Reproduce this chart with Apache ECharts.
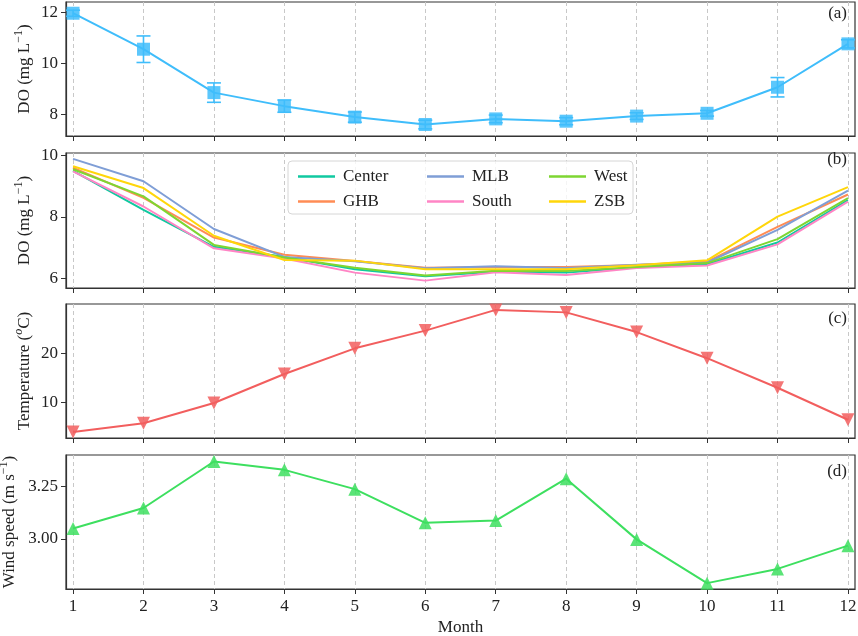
<!DOCTYPE html>
<html>
<head>
<meta charset="utf-8">
<script src="https://cdn.jsdelivr.net/npm/echarts@6/dist/echarts.min.js"></script>
<style>
html, body { margin: 0; padding: 0; background: #fff; }
#main { width: 858px; height: 636px; }
</style>
</head>
<body>
<div id="main"></div>
<script>
// data
const months = [1, 2, 3, 4, 5, 6, 7, 8, 9, 10, 11, 12];

// (a) mean DO with error bars
const doMean = [11.96, 10.55, 8.85, 8.32, 7.89, 7.6, 7.82, 7.73, 7.93, 8.04, 9.06, 10.76];
const doErr = [0.12, 0.52, 0.38, 0.24, 0.2, 0.17, 0.15, 0.14, 0.13, 0.11, 0.38, 0.16];

// (b) DO by site
const siteNames = ['Center', 'GHB', 'MLB', 'South', 'West', 'ZSB'];
const siteColors = ['#10c9a0', '#ff8c55', '#7f9ed6', '#ff85c5', '#7ed632', '#ffd60a'];
const doCenter = [9.5, 8.23, 7.03, 6.7, 6.3, 6.07, 6.22, 6.19, 6.36, 6.46, 7.17, 8.55];
const doGHB = [9.6, 8.62, 7.33, 6.77, 6.57, 6.35, 6.37, 6.37, 6.44, 6.55, 7.68, 8.73];
const doMLB = [9.89, 9.16, 7.61, 6.7, 6.56, 6.33, 6.4, 6.34, 6.45, 6.52, 7.58, 8.86];
const doSouth = [9.48, 8.34, 6.98, 6.65, 6.19, 5.93, 6.2, 6.11, 6.34, 6.42, 7.11, 8.5];
const doWest = [9.55, 8.67, 7.09, 6.68, 6.35, 6.1, 6.25, 6.24, 6.37, 6.5, 7.28, 8.61];
const doZSB = [9.65, 8.94, 7.39, 6.6, 6.58, 6.3, 6.3, 6.3, 6.43, 6.59, 8.01, 8.97];
const siteValues = [doCenter, doGHB, doMLB, doSouth, doWest, doZSB];

// (c) temperature
const temperature = [4.0, 5.8, 9.9, 15.8, 21.0, 24.6, 28.8, 28.3, 24.3, 19.0, 13.0, 6.5];

// (d) wind speed
const windSpeed = [3.049, 3.147, 3.369, 3.329, 3.237, 3.076, 3.087, 3.287, 2.997, 2.788, 2.856, 2.967];

const serif = 'Liberation Serif';
const ink = '#222';
const colA = '#3fbdfb';
const colC = '#f25e5e';
const colD = '#3ddf5f';

const grids = [
    { top: 2, height: 134 },
    { top: 153, height: 135 },
    { top: 304, height: 134 },
    { top: 455, height: 134 }
].map(g => Object.assign({
    left: 66, right: 3, show: true, borderColor: '#333', borderWidth: 1.2,
    backgroundColor: 'transparent', containLabel: false, outerBoundsMode: 'none'
}, g));

function xAxisFor(i) {
    const last = i === 3;
    return {
        type: 'value', gridIndex: i, min: 0.9, max: 12.1,
        axisLine: { show: true, lineStyle: { color: '#333', width: 1.2 } },
        axisTick: { show: true, customValues: months, length: 5, lineStyle: { color: '#333' } },
        axisLabel: {
            show: last, customValues: months, margin: 9,
            fontFamily: serif, fontSize: 17, color: ink
        },
        splitLine: { show: true, lineStyle: { color: '#c8c8c8', type: [4, 3], width: 1 } },
        name: last ? 'Month' : '', nameLocation: 'middle', nameGap: 30,
        nameTextStyle: { fontFamily: serif, fontSize: 17, color: ink }
    };
}

const nameRich = {
    n: { fontFamily: serif, fontSize: 17, color: ink, lineHeight: 24 },
    s: { fontFamily: serif, fontSize: 12, color: ink, lineHeight: 12, verticalAlign: 'top' },
    si: { fontFamily: serif, fontSize: 12, color: ink, lineHeight: 12, verticalAlign: 'top', fontStyle: 'italic' }
};

function yAxisFor(i, min, max, ticks, name, gap, fmt) {
    return {
        type: 'value', gridIndex: i, min: min, max: max,
        axisLine: { show: true, lineStyle: { color: '#333', width: 1.2 } },
        axisTick: { show: true, customValues: ticks, length: 5, lineStyle: { color: '#333' } },
        axisLabel: {
            customValues: ticks, margin: 8, fontFamily: serif, fontSize: 17, color: ink,
            formatter: fmt || (v => String(v))
        },
        splitLine: { show: false },
        name: name, nameLocation: 'middle', nameGap: gap, nameRotate: 90,
        nameMoveOverlap: false,
        nameTextStyle: { rich: nameRich }
    };
}

const pairs = vals => months.map((m, i) => [m, vals[i]]);

const series = [];

// (a)
series.push({
    type: 'custom', xAxisIndex: 0, yAxisIndex: 0, z: 3,
    data: months.map((m, i) => [m, doMean[i] - doErr[i], doMean[i] + doErr[i]]),
    encode: { x: 0, y: [1, 2] },
    renderItem: function (params, api) {
        const x = api.value(0);
        const lo = api.coord([x, api.value(1)]);
        const hi = api.coord([x, api.value(2)]);
        const w = 7;
        const st = { stroke: colA, lineWidth: 1.6 };
        return {
            type: 'group', children: [
                { type: 'line', shape: { x1: lo[0], y1: lo[1], x2: hi[0], y2: hi[1] }, style: st },
                { type: 'line', shape: { x1: lo[0] - w, y1: lo[1], x2: lo[0] + w, y2: lo[1] }, style: st },
                { type: 'line', shape: { x1: hi[0] - w, y1: hi[1], x2: hi[0] + w, y2: hi[1] }, style: st }
            ]
        };
    }
});
series.push({
    type: 'line', xAxisIndex: 0, yAxisIndex: 0, data: pairs(doMean), z: 4,
    symbol: 'rect', symbolSize: 13, showAllSymbol: true,
    lineStyle: { color: colA, width: 2 },
    itemStyle: { color: colA, opacity: 0.85 },
    emphasis: { disabled: true }
});

// (b)
siteNames.forEach((name, k) => {
    series.push({
        name: name, type: 'line', xAxisIndex: 1, yAxisIndex: 1,
        data: pairs(siteValues[k]), symbol: 'none',
        lineStyle: { color: siteColors[k], width: 2 },
        itemStyle: { color: siteColors[k] },
        emphasis: { disabled: true }
    });
});

// (c)
series.push({
    type: 'line', xAxisIndex: 2, yAxisIndex: 2, data: pairs(temperature),
    symbol: 'triangle', symbolRotate: 180, symbolSize: 13, showAllSymbol: true,
    lineStyle: { color: colC, width: 2 },
    itemStyle: { color: colC, opacity: 0.85 },
    emphasis: { disabled: true }
});

// (d)
series.push({
    type: 'line', xAxisIndex: 3, yAxisIndex: 3, data: pairs(windSpeed),
    symbol: 'triangle', symbolSize: 13, showAllSymbol: true,
    lineStyle: { color: colD, width: 2 },
    itemStyle: { color: colD, opacity: 0.85 },
    emphasis: { disabled: true }
});

function legendCol(names, left) {
    return {
        data: names, orient: 'vertical', left: left, top: 163,
        icon: 'rect', itemWidth: 37, itemHeight: 2.5, itemGap: 8,
        selectedMode: false,
        textStyle: { fontFamily: serif, fontSize: 17, color: ink, lineHeight: 17, padding: [0, 0, 0, 3] }
    };
}

const panelTags = [['(a)', 14], ['(b)', 160], ['(c)', 319], ['(d)', 472]];

const option = {
    animation: false,
    backgroundColor: '#fff',
    textStyle: { fontFamily: serif },
    grid: grids,
    xAxis: [0, 1, 2, 3].map(xAxisFor),
    yAxis: [
        yAxisFor(0, 7.15, 12.4, [8, 10, 12], '{n|DO (mg L}{s|\u22121}{n|)}', 29),
        yAxisFor(1, 5.69, 10.08, [6, 8, 10], '{n|DO (mg L}{s|\u22121}{n|)}', 29),
        yAxisFor(2, 2.8, 30, [10, 20], '{n|Temperature (}{si|o}{n|C)}', 29),
        yAxisFor(3, 2.76, 3.4, [3.0, 3.25], '{n|Wind speed (m s}{s|\u22121}{n|)}', 44, v => v.toFixed(2))
    ],
    legend: [
        legendCol(['Center', 'GHB'], 293),
        legendCol(['MLB', 'South'], 422),
        legendCol(['West', 'ZSB'], 544)
    ],
    graphic: [
        {
            type: 'rect', z: 3, shape: { x: 288, y: 161, width: 345, height: 53, r: 4 },
            style: { fill: 'rgba(255,255,255,0.8)', stroke: '#d6d6d6', lineWidth: 1 }
        }
    ].concat(panelTags.map(t => ({
        type: 'text', z: 5, x: 847, y: t[1],
        style: {
            text: t[0], fontFamily: serif, fontSize: 17, fill: ink,
            textAlign: 'right', textVerticalAlign: 'middle'
        }
    }))),
    series: series
};

const myChart = echarts.init(document.getElementById('main'));
myChart.setOption(option);
</script>
</body>
</html>
